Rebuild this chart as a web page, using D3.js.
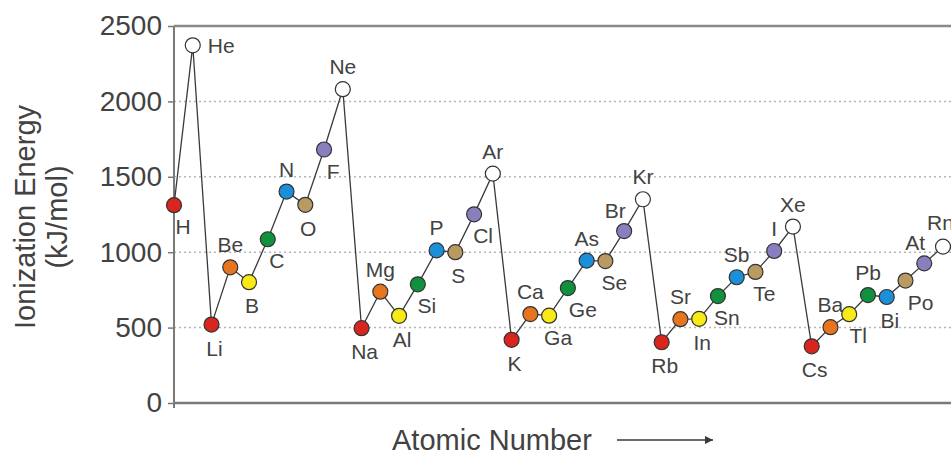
<!DOCTYPE html>
<html>
<head>
<meta charset="utf-8">
<script src="https://cdn.jsdelivr.net/npm/d3@7"></script>
<style>
  body { margin: 0; background: #fff; }
  svg { display: block; font-family: "Liberation Sans", Arial, sans-serif; }
</style>
</head>
<body>
<svg></svg>
<script>
// elements in order (transition metals left out)
let symbols = ["H","He","Li","Be","B","C","N","O","F","Ne",
  "Na","Mg","Al","Si","P","S","Cl","Ar",
  "K","Ca","Ga","Ge","As","Se","Br","Kr",
  "Rb","Sr","In","Sn","Sb","Te","I","Xe",
  "Cs","Ba","Tl","Pb","Bi","Po","At","Rn"];

// first ionization energy, kJ/mol
let energies = [1312, 2372, 520, 900, 801, 1086, 1402, 1314, 1681, 2081,
  496, 738, 578, 787, 1012, 1000, 1251, 1521,
  419, 590, 579, 762, 944, 941, 1140, 1351,
  403, 556, 558, 709, 834, 869, 1008, 1170,
  376, 503, 589, 716, 703, 812, 926, 1037];

// main group of each element
let families = ["alk","noble","alk","ae","b","c","n","o","hal","noble",
  "alk","ae","b","c","n","o","hal","noble",
  "alk","ae","b","c","n","o","hal","noble",
  "alk","ae","b","c","n","o","hal","noble",
  "alk","ae","b","c","n","o","hal","noble"];

let yTicks = [0, 500, 1000, 1500, 2000, 2500];

// where each symbol sits around its dot
let labelPlace = ["br","rt","b","t","b","br","t","b","br","t",
  "b","t","b","br","t","b","br","t",
  "b","t","br","r","t","br","tl","t",
  "b","t","b","br","t","br","t","t",
  "b","t","br","t","b","r","tl","tr"];

let familyColor = {
  alk: "#d8251d", ae: "#e6751d", b: "#f7ea16", c: "#10913d",
  n: "#1b8fd7", o: "#b99a63", hal: "#8b7ebe", noble: "#ffffff"
};

let placeOffset = {
  t:  { dx: 0,   dy: -15, anchor: "middle" },
  tl: { dx: -9,  dy: -13, anchor: "middle" },
  tr: { dx: -16, dy: -17, anchor: "start" },
  rt: { dx: 15,  dy: 8,   anchor: "start" },
  b:  { dx: 3,   dy: 31,  anchor: "middle" },
  br: { dx: 9,   dy: 29,  anchor: "middle" },
  r:  { dx: 15,  dy: 29,  anchor: "middle" }
};

let width = 951;
let height = 455;
let plotLeft = 174;
let plotTop = 26;
let plotBottom = 403;

let svg = d3.select("svg")
  .attr("width", width)
  .attr("height", height);

let xScale = d3.scaleLinear()
  .domain([0, symbols.length - 1])
  .range([plotLeft, 943]);

let yScale = d3.scaleLinear()
  .domain([0, 2500])
  .range([plotBottom, plotTop]);

// dotted grid lines
svg.append("g")
  .selectAll("line")
  .data(yTicks.filter(t => t > 0 && t < 2500))
  .enter()
  .append("line")
  .attr("x1", plotLeft)
  .attr("x2", width)
  .attr("y1", d => yScale(d))
  .attr("y2", d => yScale(d))
  .attr("stroke", "#b5b5b5")
  .attr("stroke-width", 1.5)
  .attr("stroke-dasharray", "2,3");

// frame top line
svg.append("line")
  .attr("x1", plotLeft).attr("x2", width)
  .attr("y1", yScale(2500)).attr("y2", yScale(2500))
  .attr("stroke", "#8a8a8a")
  .attr("stroke-width", 2.5);

// y axis
let yAxis = d3.axisLeft(yScale)
  .tickValues(yTicks)
  .tickFormat(d3.format("d"))
  .tickSize(6)
  .tickPadding(6);

let yG = svg.append("g")
  .attr("transform", "translate(" + plotLeft + ",0)")
  .call(yAxis);
yG.select(".domain").remove();
yG.selectAll(".tick line").attr("stroke", "#777").attr("stroke-width", 1.5);
yG.selectAll(".tick text")
  .attr("fill", "#424242")
  .style("font-size", "28px")
  .style("font-family", "'Liberation Sans', Arial, sans-serif");

svg.append("line")
  .attr("x1", plotLeft).attr("x2", plotLeft)
  .attr("y1", plotTop).attr("y2", plotBottom + 5)
  .attr("stroke", "#7a7a7a")
  .attr("stroke-width", 2);

// x axis line
svg.append("line")
  .attr("x1", plotLeft).attr("x2", width)
  .attr("y1", plotBottom).attr("y2", plotBottom)
  .attr("stroke", "#7a7a7a")
  .attr("stroke-width", 2.5);

// connecting line
let line = d3.line()
  .x((d, i) => xScale(i))
  .y(d => yScale(d));

svg.append("path")
  .datum(energies)
  .attr("d", line)
  .attr("fill", "none")
  .attr("stroke", "#3a3a3a")
  .attr("stroke-width", 1.3);

// dots
svg.append("g")
  .selectAll("circle")
  .data(energies)
  .enter()
  .append("circle")
  .attr("cx", (d, i) => xScale(i))
  .attr("cy", d => yScale(d))
  .attr("r", 7.5)
  .attr("fill", (d, i) => familyColor[families[i]])
  .attr("stroke", "#333")
  .attr("stroke-width", 1.2);

// element symbols
svg.append("g")
  .selectAll("text")
  .data(symbols)
  .enter()
  .append("text")
  .attr("x", (d, i) => xScale(i) + placeOffset[labelPlace[i]].dx)
  .attr("y", (d, i) => yScale(energies[i]) + placeOffset[labelPlace[i]].dy)
  .attr("text-anchor", (d, i) => placeOffset[labelPlace[i]].anchor)
  .attr("fill", "#424242")
  .style("font-size", "21px")
  .text(d => d);

// axis titles
let yTitle = svg.append("text")
  .attr("transform", "translate(35,217) rotate(-90)")
  .attr("text-anchor", "middle")
  .attr("fill", "#424242")
  .style("font-size", "29px");
yTitle.append("tspan").attr("x", 0).attr("y", 0).text("Ionization Energy");
yTitle.append("tspan").attr("x", 0).attr("y", 32).text("(kJ/mol)");

svg.append("text")
  .attr("x", 392)
  .attr("y", 450)
  .attr("fill", "#424242")
  .style("font-size", "29px")
  .text("Atomic Number");

svg.append("defs").append("marker")
  .attr("id", "arrow")
  .attr("viewBox", "0 0 10 10")
  .attr("refX", 10).attr("refY", 5)
  .attr("markerWidth", 10).attr("markerHeight", 8)
  .attr("markerUnits", "userSpaceOnUse")
  .attr("orient", "auto")
  .append("path")
  .attr("d", "M0,0L10,5L0,10Z")
  .attr("fill", "#3a3a3a");

svg.append("line")
  .attr("x1", 617).attr("x2", 713)
  .attr("y1", 440).attr("y2", 440)
  .attr("stroke", "#3a3a3a")
  .attr("stroke-width", 1.5)
  .attr("marker-end", "url(#arrow)");
</script>
</body>
</html>
